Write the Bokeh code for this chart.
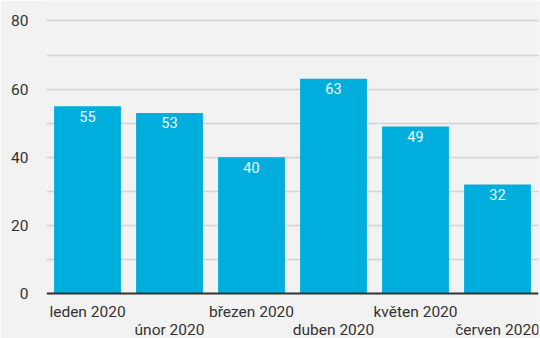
from bokeh.plotting import figure
from bokeh.models import ColumnDataSource, FixedTicker, Span
from bokeh.core.properties import value
from bokeh.embed import file_html
from bokeh.resources import INLINE

months = ["leden 2020", "únor 2020", "březen 2020", "duben 2020", "květen 2020", "červen 2020"]
counts = [55, 53, 40, 63, 49, 32]
y_ticks = [0, 20, 40, 60, 80]
grid_ticks = [10, 20, 30, 40, 50, 60, 70, 80]

BG = "#f2f2f2"
BAR = "#00aedd"
FONT = "Roboto"

src = ColumnDataSource(dict(
    m=months, v=counts, lbl=[str(c) for c in counts],
    row=[-5.3 if i % 2 == 0 else -10.7 for i in range(len(months))],
))

p = figure(x_range=months, y_range=(-13.2, 86.0), width=540, height=338,
           output_backend="svg", toolbar_location=None,
           background_fill_color=BG, border_fill_color=BG,
           min_border_left=46, min_border_right=2, min_border_top=0, min_border_bottom=0)
p.outline_line_color = None
p.xaxis.visible = False
p.xgrid.visible = False

p.ygrid.ticker = FixedTicker(ticks=grid_ticks)
p.ygrid.grid_line_color = "#d4d4d4"
p.ygrid.grid_line_width = 1.5

ax = p.yaxis[0]
ax.ticker = FixedTicker(ticks=y_ticks)
ax.axis_line_color = None
ax.major_tick_line_color = None
ax.minor_tick_line_color = None
ax.major_tick_out = 0
ax.major_tick_in = 0
ax.major_label_standoff = 18
ax.major_label_text_font = FONT
ax.major_label_text_font_size = "15.5px"
ax.major_label_text_color = "#333333"

p.vbar(x="m", top="v", bottom=0, width=0.815, source=src, color=BAR, line_color=None)

p.add_layout(Span(location=0, dimension="width", line_color="#333333", line_width=2))

p.text(x="m", y="v", text="lbl", source=src, text_align="center", text_baseline="middle",
       y_offset=10, text_color="#f4fbfe", text_font=value(FONT), text_font_size="14.5px")

p.text(x="m", y="row", text="m", source=src, text_align="center", text_baseline="middle",
       text_color="#333333", text_font=value(FONT), text_font_size="15.5px")

open("out.html", "w").write(file_html(p, INLINE))
